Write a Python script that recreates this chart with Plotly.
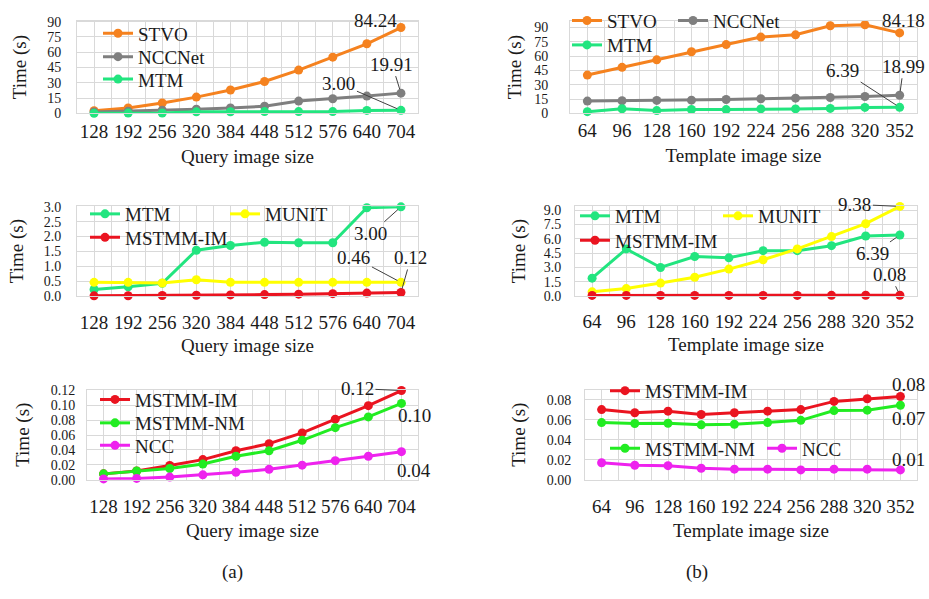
import plotly.graph_objects as go

# ---------------- data ----------------
query_sizes = ["128", "192", "256", "320", "384", "448", "512", "576", "640", "704"]
template_sizes = ["64", "96", "128", "160", "192", "224", "256", "288", "320", "352"]

# (a) query image size
stvo_q = [2.6, 5.4, 10.2, 16.0, 23.0, 31.3, 42.5, 55.2, 68.3, 84.24]
nccnet_q = [1.5, 2.2, 3.2, 4.1, 5.4, 7.0, 12.1, 14.4, 17.0, 19.91]
mtm_q = [0.22, 0.31, 0.43, 1.54, 1.70, 1.81, 1.79, 1.79, 2.97, 3.00]
munit_q = [0.46, 0.46, 0.44, 0.55, 0.46, 0.46, 0.46, 0.46, 0.46, 0.46]
mstmm_im_q = [0.0078, 0.0117, 0.019, 0.027, 0.039, 0.0485, 0.063, 0.0815, 0.0997, 0.12]
mstmm_nm_q = [0.0078, 0.0117, 0.015, 0.021, 0.0316, 0.039, 0.053, 0.070, 0.0845, 0.1027]
ncc_q = [0.001, 0.0017, 0.0035, 0.0065, 0.010, 0.0139, 0.0195, 0.0256, 0.0316, 0.0377]

# (b) template image size
stvo_t = [40.1, 48.2, 56.0, 64.5, 72.0, 79.8, 82.2, 91.7, 92.7, 84.18]
nccnet_t = [12.9, 13.2, 13.6, 13.9, 14.6, 15.3, 16.0, 16.6, 17.7, 18.99]
mtm_t = [1.87, 4.93, 2.99, 4.14, 4.0, 4.75, 4.75, 5.27, 6.28, 6.39]
munit_t = [0.44, 0.78, 1.36, 1.97, 2.82, 3.8, 4.93, 6.22, 7.57, 9.38]
mstmm_im_t = [0.0702, 0.067, 0.0686, 0.0653, 0.067, 0.0686, 0.0702, 0.0784, 0.081, 0.0833]
mstmm_nm_t = [0.0572, 0.0562, 0.0565, 0.0549, 0.0555, 0.0572, 0.0594, 0.0692, 0.0696, 0.0745]
ncc_t = [0.017, 0.0144, 0.014, 0.0114, 0.0105, 0.0105, 0.0098, 0.0105, 0.0105, 0.0098]

# ---------------- style ----------------
W, H = 929, 599
FONT = "Liberation Serif, DejaVu Serif, serif"
FS = 19
YFS = 14
TXT = "#1a1a1a"
GRID = "#D9D9D9"
COL = {
    "STVO": "#F5821F",
    "NCCNet": "#7F7F7F",
    "MTM": "#22E57F",
    "MUNIT": "#FFFF00",
    "MSTMM-IM": "#EA1420",
    "MSTMM-NM": "#22EC22",
    "NCC": "#EE22EE",
}

def px_x(p):
    return p / W

def px_y(p):
    return 1 - p / H

# panel definitions: (plot-left, plot-right, plot-top, plot-bottom) in pixels
panels = [
    dict(box=(77, 418, 15, 110), cats=query_sizes, xtitle="Query image size",
         yrange=[0, 91], dtick=15, fmt="d", tstand=1, xts=8, ystand=12, yts=15),
    dict(box=(570, 917, 15, 110), cats=template_sizes, xtitle="Template image size",
         yrange=[0, 97], dtick=15, fmt="d", tstand=0, xts=8, ystand=18, yts=7),
    dict(box=(77, 418, 205, 297), cats=query_sizes, xtitle="Query image size",
         yrange=[0, 3.02], dtick=0.5, fmt=".1f", tstand=9, xts=6, ystand=12, yts=15),
    dict(box=(575, 917, 205, 297), cats=template_sizes, xtitle="Template image size",
         yrange=[0, 9.4], dtick=1.5, fmt=".1f", tstand=8, xts=6, ystand=10, yts=13),
    dict(box=(87, 418, 393, 485), cats=query_sizes, xtitle="Query image size",
         yrange=[0, 0.121], dtick=0.02, fmt=".2f", tstand=10, xts=7, ystand=8, yts=16),
    dict(box=(585, 917, 393, 485), cats=template_sizes, xtitle="Template image size",
         yrange=[0, 0.09], dtick=0.02, fmt=".2f", tstand=10, xts=7, ystand=10, yts=16),
]

# series per panel: (name, values, legend symbol-left px, legend centre-y px)
series = [
    [("STVO", stvo_q, 103, 28), ("NCCNet", nccnet_q, 103, 52), ("MTM", mtm_q, 103, 75)],
    [("STVO", stvo_t, 572, 15), ("NCCNet", nccnet_t, 678, 15), ("MTM", mtm_t, 572, 40)],
    [("MTM", mtm_q, 90, 213), ("MUNIT", munit_q, 230, 213), ("MSTMM-IM", mstmm_im_q, 90, 237)],
    [("MTM", mtm_t, 580, 215), ("MUNIT", munit_t, 723, 215), ("MSTMM-IM", mstmm_im_t, 580, 240)],
    [("MSTMM-IM", mstmm_im_q, 100, 403), ("MSTMM-NM", mstmm_nm_q, 100, 427), ("NCC", ncc_q, 100, 450)],
    [("MSTMM-IM", mstmm_im_t, 610, 394), ("MSTMM-NM", mstmm_nm_t, 610, 453), ("NCC", ncc_t, 767, 453)],
]

fig = go.Figure()
layout = dict(
    width=W, height=H,
    margin=dict(l=0, r=0, t=0, b=0),
    paper_bgcolor="white", plot_bgcolor="white",
    font=dict(family=FONT, size=FS, color=TXT),
    showlegend=True,
)

legend_count = 0
for i, (p, ser) in enumerate(zip(panels, series)):
    n = "" if i == 0 else str(i + 1)
    l, r, t, b = p["box"]
    idx = list(range(len(p["cats"])))
    half = [k - 0.5 for k in range(len(p["cats"]) + 1)]
    layout["xaxis" + n] = dict(
        domain=[px_x(l), px_x(r)], anchor="y" + n,
        range=[-0.5, len(p["cats"]) - 0.5],
        tickmode="array", tickvals=idx, ticktext=p["cats"],
        showgrid=True, gridcolor=GRID, gridwidth=1,
        minor=dict(tickmode="array", tickvals=half, showgrid=True, gridcolor=GRID, gridwidth=1),
        zeroline=False, showline=True, linecolor=GRID, mirror=True,
        ticks="", ticklabelstandoff=p["tstand"],
        tickfont=dict(family=FONT, size=FS, color=TXT),
        title=dict(text=p["xtitle"], font=dict(family=FONT, size=FS, color=TXT), standoff=p["xts"]),
        fixedrange=True,
    )
    layout["yaxis" + n] = dict(
        domain=[px_y(b), px_y(t)], anchor="x" + n,
        range=p["yrange"], tick0=0, dtick=p["dtick"], tickformat=p["fmt"],
        showgrid=True, gridcolor=GRID, gridwidth=1,
        zeroline=False, showline=True, linecolor=GRID, mirror=True,
        ticks="", ticklabelstandoff=p["ystand"],
        tickfont=dict(family=FONT, size=YFS, color=TXT),
        title=dict(text="Time (s)", font=dict(family=FONT, size=FS, color=TXT), standoff=p["yts"]),
        fixedrange=True,
    )
    for name, vals, sx, cy in ser:
        legend_count += 1
        lg = "legend" if legend_count == 1 else "legend" + str(legend_count)
        layout[lg] = dict(
            x=px_x(sx - 5), xanchor="left", y=px_y(cy), yanchor="middle",
            bgcolor="rgba(0,0,0,0)", borderwidth=0,
            font=dict(family=FONT, size=FS, color=TXT),
            orientation="v", itemwidth=30,
        )
        fig.add_trace(go.Scatter(
            x=idx, y=vals, name=name, mode="lines+markers",
            line=dict(color=COL[name], width=3),
            marker=dict(color=COL[name], size=9),
            xaxis="x" + n, yaxis="y" + n, legend=lg,
            cliponaxis=False, hoverinfo="x+y+name",
        ))

# ---------------- data labels ----------------
def last_label(panel, vals, fmt, ax=0, ay=0, arrow=True, xshift=0, yshift=0):
    n = "" if panel == 0 else str(panel + 1)
    d = dict(
        x=len(vals) - 1, y=vals[-1], xref="x" + n, yref="y" + n,
        text=format(vals[-1], fmt), font=dict(family=FONT, size=FS, color=TXT),
        xanchor="center", yanchor="middle",
    )
    if arrow:
        d.update(showarrow=True, ax=ax, ay=ay, arrowhead=0, arrowwidth=1,
                 arrowcolor="#404040", standoff=4)
    else:
        d.update(showarrow=False, xshift=xshift, yshift=yshift)
    return d

annotations = [
    last_label(0, stvo_q, ".2f", arrow=False, xshift=-25, yshift=7),
    last_label(0, nccnet_q, ".2f", ax=-9, ay=-29),
    last_label(0, mtm_q, ".2f", ax=-62, ay=-27),
    last_label(1, stvo_t, ".2f", arrow=False, xshift=4, yshift=12),
    last_label(1, nccnet_t, ".2f", ax=4, ay=-29),
    last_label(1, mtm_t, ".2f", ax=-57, ay=-37),
    last_label(2, mtm_q, ".2f", ax=-30, ay=27),
    last_label(2, munit_q, ".2f", ax=-47, ay=-25),
    last_label(2, mstmm_im_q, ".2f", ax=10, ay=-35),
    last_label(3, munit_t, ".2f", ax=-45, ay=-2),
    last_label(3, mtm_t, ".2f", ax=-27, ay=19),
    last_label(3, mstmm_im_t, ".2f", ax=-10, ay=-21),
    last_label(4, mstmm_im_q, ".2f", ax=-44, ay=-2),
    last_label(4, mstmm_nm_q, ".2f", arrow=False, xshift=13, yshift=-12),
    last_label(4, ncc_q, ".2f", arrow=False, xshift=13, yshift=-19),
    last_label(5, mstmm_im_t, ".2f", arrow=False, xshift=8, yshift=12),
    last_label(5, mstmm_nm_t, ".2f", arrow=False, xshift=8, yshift=-13),
    last_label(5, ncc_t, ".2f", arrow=False, xshift=8, yshift=10),
]
for txt, xp in (("(a)", 232), ("(b)", 697)):
    annotations.append(dict(
        x=px_x(xp), y=px_y(580), xref="paper", yref="paper", showarrow=False,
        text=txt, font=dict(family=FONT, size=FS, color=TXT),
        xanchor="center", yanchor="middle",
    ))
layout["annotations"] = annotations

fig.update_layout(**layout)
fig.write_html(
    "out.html",
    config={"displayModeBar": False},
    post_script="document.body.style.margin='0px';document.body.style.overflow='hidden';",
)
